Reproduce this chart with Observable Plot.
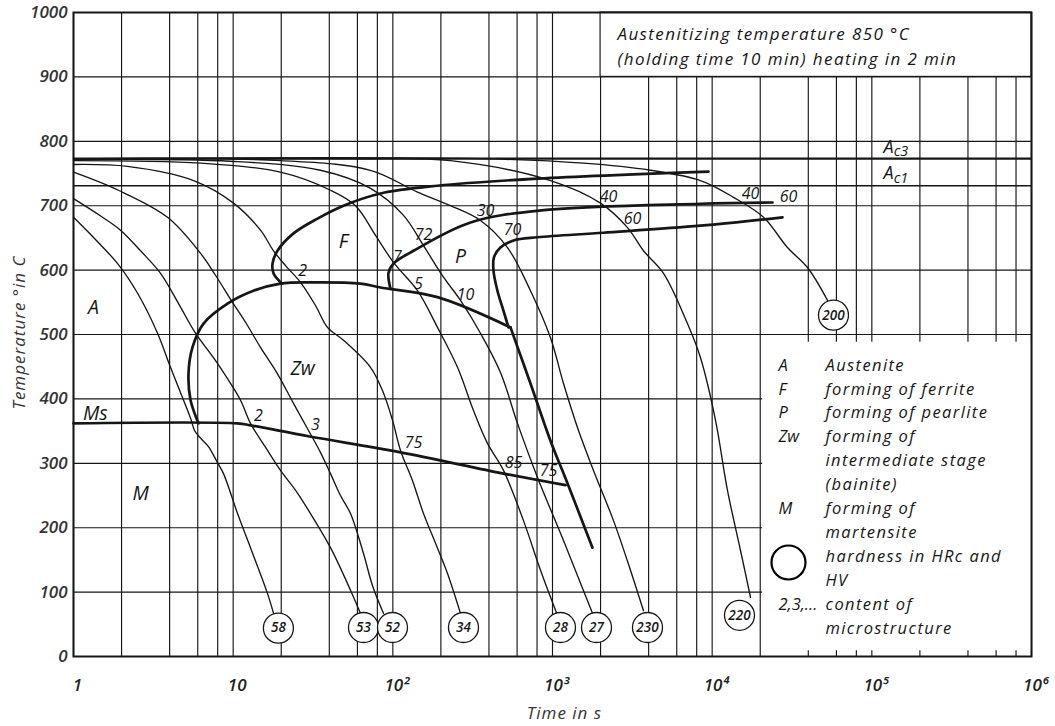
<!DOCTYPE html>
<html><head><meta charset="utf-8">
<script src="https://cdn.jsdelivr.net/npm/d3@7"></script>
<script src="https://cdn.jsdelivr.net/npm/@observablehq/plot@0.6"></script>
<style>
body{margin:0;background:#fff;}
#chart{width:1055px;height:726px;}
</style></head><body><div id="chart"></div>
<script>
// ---------- data ----------
const gridTimes = [1,2,4,6,8,10,20,40,60,80,100,200,400,600,800,1000,2000,4000,6000,8000,1e4,2e4,4e4,6e4,8e4,1e5,2e5,4e5,6e5,8e5,1e6];
const gridTemps = [0,100,200,300,400,500,600,700,800,900,1000];
const xTicks = [1,10,100,1000,1e4,1e5,1e6];
const xTickLabels = ["1","10","10²","10³","10⁴","10⁵","10⁶"];
const yTicks = [0,100,200,300,400,500,600,700,800,900,1000];
const ac3Temp = 773;
const ac1Temp = 731;

// cooling curves [time s, temperature °C]
const cool58 = [[1,682],[1.33,651],[1.89,610],[2.52,564],[3.36,502],[4.05,449],[4.89,398],[5.41,370],[5.73,351],[6.25,339],[7.0,326],[7.98,301],[8.7,284],[10.65,222],[12.84,169],[16.4,98],[17.9,67]];
const cool53 = [[1,711],[1.48,684],[1.97,662],[2.63,630],[3.51,595],[4.55,548],[5.81,502],[7.53,464],[9.35,429],[11.12,398],[12.84,362],[15.94,325],[19.79,289],[24.6,258],[30.5,222],[40.7,169],[54.3,103],[62.7,67]];
const cool52 = [[1,752],[1.91,724],[3.88,682],[6.25,626],[7.75,592],[9.9,550],[11.95,519],[14.83,480],[18.95,439],[23.87,393],[29.64,351],[35.2,317],[40.7,284],[47.0,250],[54.3,222],[65.5,160],[74.6,110],[87.4,67]];
const cool34 = [[1,764],[2.18,761],[5.65,739],[10.05,704],[14.83,662],[17.89,630],[21.27,607],[26.41,581],[32.78,545],[38.97,511],[49.09,491],[72.45,449],[86.1,413],[99.5,367],[111.7,320],[132.8,273],[155.6,222],[185,176],[220,129],[265.3,67]];
const cool28 = [[1,770],[6.25,766],[19.79,752],[40.7,724],[58.4,700],[77.9,654],[100.9,612],[142.7,568],[190.4,511],[254.1,449],[320.1,382],[391.6,331],[493.2,289],[658.1,211],[841,134],[1059,68]];
const cool27 = [[1,772],[9.62,769],[35.2,755],[72.5,727],[116.6,685],[155.6,638],[207.7,589],[265.3,553],[354,502],[472.3,441],[603.6,362],[805.4,278],[1172,180],[1780,67]];
const cool230 = [[1,773],[19.79,770],[72.45,755],[142.7,721],[229.7,700],[354,677],[522.5,635],[728,568],[971.4,495],[1172,424],[1455,351],[1806,289],[2410,211],[3079,134],[3714,71]];
const cool220 = [[1,773],[54.3,773],[229.7,770],[971.4,739],[1998,704],[2949,666],[3714,630],[4956,595],[7003,517],[8452,464],[10490,367],[12470,258],[15040,165],[17380,92]];
const cool200 = [[1,773],[354,773],[1564,766],[4110,755],[8452,739],[13600,713],[20970,682],[29630,635],[39540,604],[52760,553]];

// transformation boundaries
const bainiteStart = [[6.07,362],[5.41,398],[5.25,439],[5.56,480],[6.52,517],[9.22,548],[13.41,568],[19.79,579],[30.5,581],[62.7,579],[83.7,573],[190.4,558],[545.7,511]];
const ferriteStart = [[19.79,581],[17.89,595],[17.64,610],[18.95,630],[23.87,657],[33.74,680],[49.09,700],[83.7,719],[190.4,731],[805.4,742],[9483,753]];
const pearliteStart = [[96.7,571],[93.9,595],[100.9,610],[134.7,630],[306.5,674],[878,693],[8452,703],[23870,705]];
const pearliteEnd = [[530,511],[493,537],[452,568],[427,599],[430,620],[472,635],[570,646],[805,651],[2086,658],[8452,669],[27570,682]];
const bainiteEnd = [[545.7,511],[728,424],[971,335],[1241,269],[1780,169]];
const msLine = [[1,362],[10.65,362],[12.84,359],[29.64,342],[111.7,317],[493.2,284],[1206,266]];

// hardness circles
const hardnessText = ["58","53","52","34","28","27","230","220","200"];
const hardnessTime = [19.2,65.5,99.5,277,1122,1886,3935,14830,57520];
const hardnessTemp = [44,45,45,45,45,45,45,64,530];

// microstructure content labels
const pctText = ["2","7","72","30","70","40","60","5","10","2","3","75","85","75","40","60"];
const pctTime = [27.2,106.9,155.6,380.5,561.6,2242,3170,144.8,285.1,14.41,32.78,134.7,569.8,944,17380,30060];
const pctTemp = [599,620,654,692,663,713,680,579,561,374,359,332,300,289,719,713];

// region labels
const regionText = ["A","F","P","Zw","Ms","M"];
const regionTime = [1.334,49.1,265,27.2,1.37,2.63];
const regionTemp = [542,644,620,447,377,253];

const titleLines = ["Austenitizing temperature 850 °C","(holding time 10 min) heating in 2 min"];
const legendKeys = ["A","F","P","Zw","","","M","","","","2,3,...",""];
const legendDescs = ["Austenite","forming of ferrite","forming of pearlite","forming of","intermediate stage","(bainite)","forming of","martensite","hardness in HRc and","HV","content of","microstructure"];

// ---------- build ----------
const tickLabel = new Map(xTicks.map((t,i)=>[t,xTickLabels[i]]));
const pts = a => a.map(([t,T])=>({t,T}));
const hardness = hardnessText.map((s,i)=>({s,t:hardnessTime[i],T:hardnessTemp[i]}));
const pcts = pctText.map((s,i)=>({s,t:pctTime[i],T:pctTemp[i]}));
const regions = regionText.map((s,i)=>({s,t:regionTime[i],T:regionTemp[i]}));
const coolCurves = [cool58,cool53,cool52,cool34,cool28,cool27,cool230,cool220,cool200];
const thickCurves = [bainiteStart,ferriteStart,pearliteStart,pearliteEnd,bainiteEnd,msLine];

const ink = "#161616";
const F = "'Open Sans', 'DejaVu Sans', sans-serif";
const acX = 1.37e5;

const plot = Plot.plot({
  width: 1055, height: 726,
  marginLeft: 73, marginRight: 24, marginTop: 12, marginBottom: 70,
  x: {type: "log", domain: [1, 1e6]},
  y: {domain: [0, 1000]},
  style: {fontFamily: F, background: "white", color: ink},
  marks: [
    Plot.ruleX(gridTimes, {stroke: ink, strokeWidth: 1.15}),
    Plot.ruleY(gridTemps, {stroke: ink, strokeWidth: 1.15}),
    Plot.ruleY([ac3Temp], {stroke: ink, strokeWidth: 2.2}),
    Plot.ruleY([ac1Temp], {stroke: ink, strokeWidth: 1.4}),
    // title box
    Plot.rect([0], {x1: 2000, x2: 1e6, y1: 900, y2: 1000, fill: "white", stroke: ink, strokeWidth: 1.15}),
    // legend box
    Plot.rect([0], {x1: 2.07e4, x2: 1e6, y1: 9, y2: 488, fill: "white"}),
    ...coolCurves.map(c => Plot.line(pts(c), {x: "t", y: "T", curve: "catmull-rom", stroke: ink, strokeWidth: 1.35})),
    ...thickCurves.map(c => Plot.line(pts(c), {x: "t", y: "T", curve: "catmull-rom", stroke: ink, strokeWidth: 2.7})),
    Plot.dot(hardness, {x: "t", y: "T", r: 15, fill: "white", stroke: ink, strokeWidth: 1.3}),
    Plot.text(hardness, {x: "t", y: "T", text: "s", fontSize: 13.5, fontStyle: "italic", fontWeight: 600, fill: ink}),
    Plot.text(pcts, {x: "t", y: "T", text: "s", fontSize: 16, fontStyle: "italic", fill: ink}),
    Plot.text(regions, {x: "t", y: "T", text: "s", fontSize: 19.5, fontStyle: "italic", fill: ink}),
    // Ac labels
    Plot.text(["A"], {x: acX, y: 791, textAnchor: "end", fontSize: 18, fontStyle: "italic", fill: ink}),
    Plot.text(["c3"], {x: acX, y: 784, textAnchor: "start", fontSize: 14.5, fontStyle: "italic", fill: ink}),
    Plot.text(["A"], {x: acX, y: 750, textAnchor: "end", fontSize: 18, fontStyle: "italic", fill: ink}),
    Plot.text(["c1"], {x: acX, y: 743, textAnchor: "start", fontSize: 14.5, fontStyle: "italic", fill: ink}),
    Plot.frame({stroke: ink, strokeWidth: 2}),
    // axes
    Plot.axisY(yTicks, {tickSize: 0, tickPadding: 6, tickFormat: d => String(d), fontSize: 17, fontStyle: "italic", fontWeight: 600, fill: "#333", label: null}),
    Plot.axisX(xTicks, {tickSize: 0, tickPadding: 22, tickFormat: d => tickLabel.get(d), fontSize: 17, fontStyle: "italic", fontWeight: 600, fill: "#222", label: null, dx: 4}),
    Plot.text(["Time in s"], {frameAnchor: "bottom", lineAnchor: "middle", dx: 12, dy: 57, fontSize: 17, fontStyle: "italic", fill: "#333"}),
    Plot.text(["Temperature °in C"], {frameAnchor: "left", textAnchor: "middle", lineAnchor: "middle", rotate: -90, dx: -54, dy: -2, fontSize: 17, fontStyle: "italic", fill: "#333"}),
    // title text
    Plot.text([titleLines.join("\n")], {frameAnchor: "top-left", textAnchor: "start", lineAnchor: "middle", lineHeight: 1.45, dx: 544, dy: 32, fontSize: 17, fontStyle: "italic", fill: ink}),
    // legend
    Plot.text([legendKeys.join("\n")], {frameAnchor: "top-left", textAnchor: "start", lineAnchor: "middle", lineHeight: 1.45, dx: 705, dy: 482, fontSize: 16.5, fontStyle: "italic", fill: ink}),
    Plot.text([legendDescs.join("\n")], {frameAnchor: "top-left", textAnchor: "start", lineAnchor: "middle", lineHeight: 1.45, dx: 752, dy: 482, fontSize: 16.5, fontStyle: "italic", fill: ink}),
    Plot.dot([0], {x: () => 30060, y: () => 146, r: 17, fill: "none", stroke: "#000", strokeWidth: 2.2})
  ]
});
// wider letter spacing for the lettering of the title, legend and axis titles
const wide = new Set([titleLines.join(""), legendDescs.join("")]);
const wider = new Set(["Time in s", "Temperature °in C"]);
d3.select(plot).selectAll("text").each(function() {
  const s = this.textContent;
  if (wide.has(s)) d3.select(this).attr("letter-spacing", "1.4px");
  else if (wider.has(s)) d3.select(this).attr("letter-spacing", "1px");
});
document.getElementById("chart").appendChild(plot);
</script></body></html>
